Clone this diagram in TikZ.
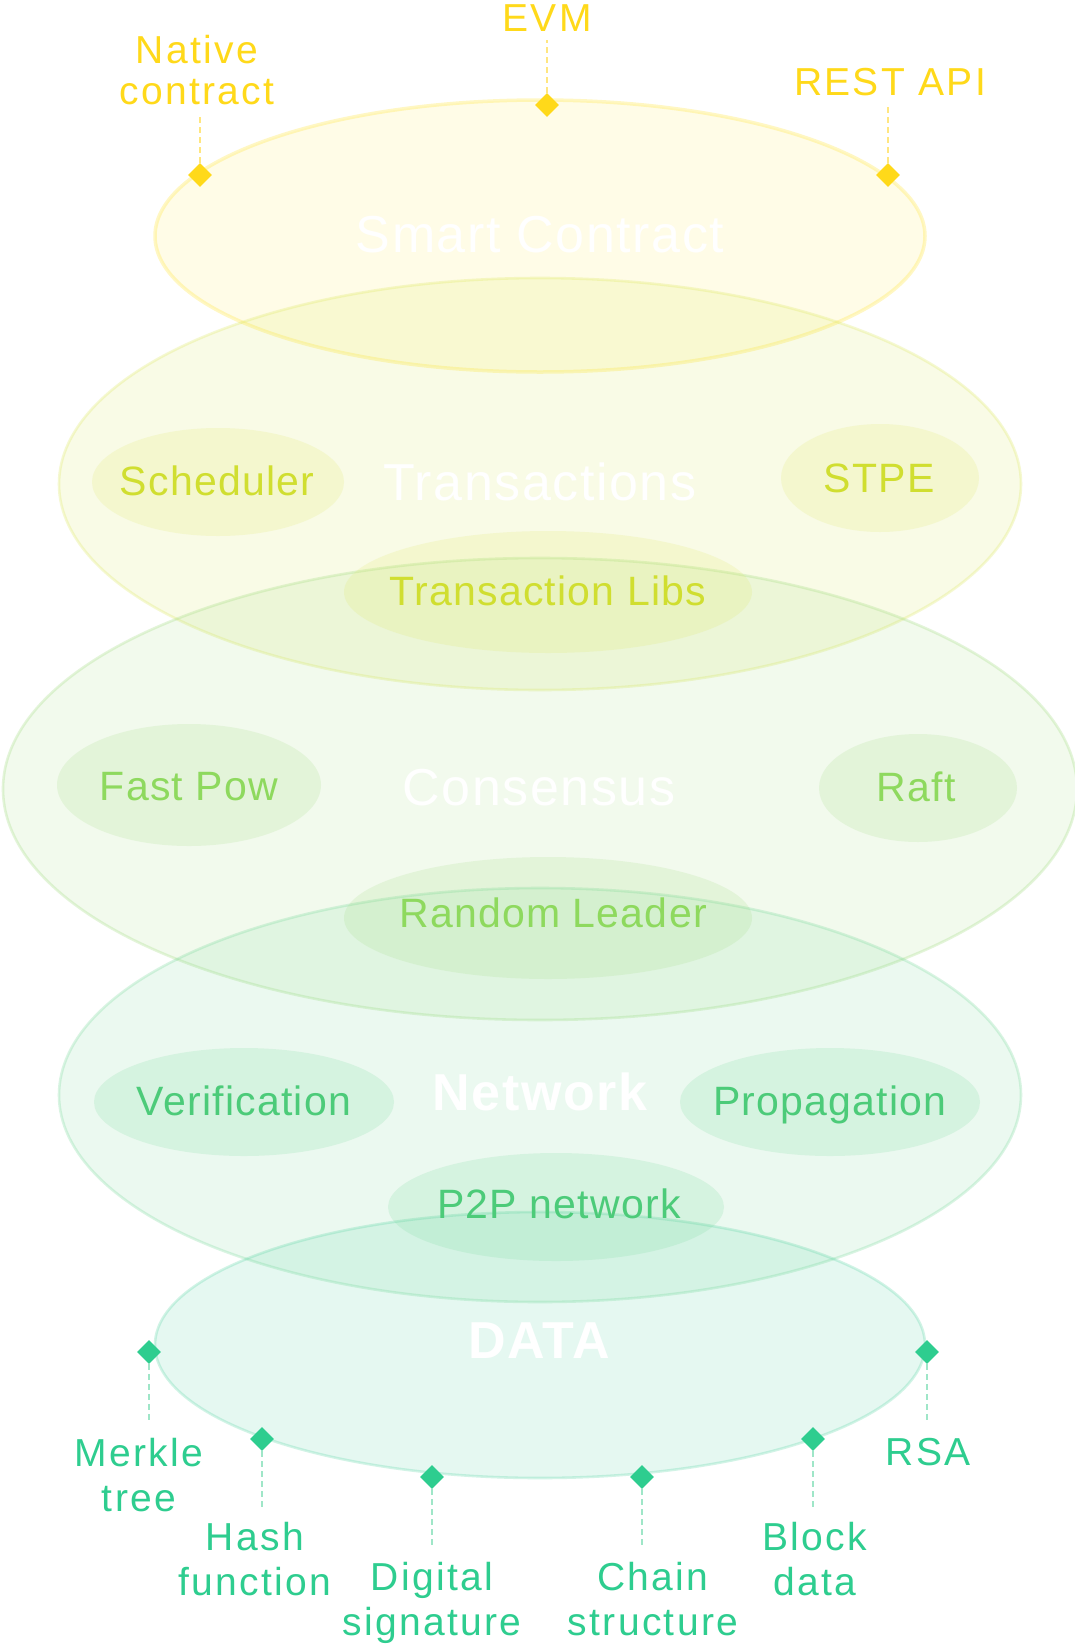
\documentclass[tikz,border=0pt]{standalone}
\usepackage{fontspec}
\setmainfont{Liberation Sans}
\newfontfamily\lblfont[LetterSpace=6]{Liberation Sans}
\newfontfamily\subfont[LetterSpace=3]{Liberation Sans}
\newfontfamily\ttlfont[LetterSpace=3]{Liberation Sans}
\usetikzlibrary{shapes.geometric}
\definecolor{cSC}{HTML}{FFE94D}
\definecolor{cTR}{HTML}{DCE85A}
\definecolor{cCO}{HTML}{9CDA78}
\definecolor{cNE}{HTML}{6CD692}
\definecolor{cDA}{HTML}{4DD39E}
\definecolor{tY}{HTML}{FFD91A}
\definecolor{tTR}{HTML}{D0DE30}
\definecolor{tCO}{HTML}{8ED95E}
\definecolor{tNE}{HTML}{4CCB79}
\definecolor{tDA}{HTML}{2ECD8F}
\definecolor{dY}{HTML}{FFE680}
\definecolor{dG}{HTML}{9FE6C8}
\tikzset{
  layer/.style={ellipse, inner sep=0pt, line width=2.6pt},
  lsc/.style={layer, fill=cSC, fill opacity=.13, draw=cSC, draw opacity=.33, line width=3.5pt},
  ltr/.style={layer, fill=cTR, fill opacity=.15, draw=cTR, draw opacity=.27},
  lco/.style={layer, fill=cCO, fill opacity=.13, draw=cCO, draw opacity=.27},
  lne/.style={layer, fill=cNE, fill opacity=.13, draw=cNE, draw opacity=.25},
  lda/.style={layer, fill=cDA, fill opacity=.14, draw=cDA, draw opacity=.25},
  subell/.style={ellipse, inner sep=0pt, draw=none},
  str/.style={subell, fill=cTR, fill opacity=.17},
  sco/.style={subell, fill=cCO, fill opacity=.17},
  sne/.style={subell, fill=cNE, fill opacity=.17},
  ttl/.style={anchor=base, inner sep=0pt, text=white, font=\ttlfont\fontsize{52}{60}\selectfont},
  ttlb/.style={ttl, font=\ttlfont\bfseries\fontsize{52}{60}\selectfont},
  sublbl/.style={anchor=base, inner sep=0pt, font=\subfont\fontsize{41}{49}\selectfont},
  outtop/.style={anchor=north, inner sep=0pt, align=center, text=tY, font=\lblfont\fontsize{39}{41}\selectfont},
  outbot/.style={anchor=north, inner sep=0pt, align=center, text=tDA, font=\lblfont\fontsize{39}{45}\selectfont},
  dia/.style={diamond, inner sep=0pt, minimum width=24pt, minimum height=24pt, aspect=1, draw=none},
  ydia/.style={dia, fill=tY},
  gdia/.style={dia, fill=tDA},
  ydash/.style={draw=dY, line width=1.2pt, dash pattern=on 6pt off 4pt, shorten >=9pt},
  gdash/.style={draw=dG, line width=1.2pt, dash pattern=on 6pt off 4pt, shorten >=15pt}
}
\begin{document}
\begin{tikzpicture}[x=1pt,y=-1pt]
\useasboundingbox[fill=white] (0,0) rectangle (1074,1647);
% layers
\node[lsc, minimum width=770pt, minimum height=272pt] (sc) at (540,236) {};
\node[ltr, minimum width=962pt, minimum height=412pt] (tr) at (540,484) {};
\node[lco, minimum width=1074pt, minimum height=462pt] (co) at (540,789) {};
\node[lne, minimum width=962pt, minimum height=414pt] (ne) at (540,1095) {};
\node[lda, minimum width=770pt, minimum height=266pt] (da) at (540,1345) {};
% sub ellipses
\node[str, minimum width=252pt, minimum height=108pt] (esch) at (218,482) {};
\node[str, minimum width=198pt, minimum height=108pt] (estp) at (880,478) {};
\node[str, minimum width=408pt, minimum height=122pt] (etl) at (548,592) {};
\node[sco, minimum width=264pt, minimum height=122pt] (efp) at (189,785) {};
\node[sco, minimum width=198pt, minimum height=108pt] (eraft) at (918,788) {};
\node[sco, minimum width=408pt, minimum height=122pt] (erl) at (548,918) {};
\node[sne, minimum width=300pt, minimum height=108pt] (ever) at (244,1102) {};
\node[sne, minimum width=300pt, minimum height=108pt] (eprop) at (830,1102) {};
\node[sne, minimum width=336pt, minimum height=108pt] (ep2p) at (556,1207) {};
% titles
\node[ttl] (tsc) at (540,252) {Smart Contract};
\node[ttl] (ttr) at (540,500) {Transactions};
\node[ttl] (tco) at (539,805) {Consensus};
\node[ttlb] (tne) at (540,1110) {Network};
\node[ttlb] (tda) at (539,1358) {DATA};
% sub labels
\node[sublbl, text=tTR] (lsch) at (217,495) {Scheduler};
\node[sublbl, text=tTR] (lstp) at (879,492) {STPE};
\node[sublbl, text=tTR] (ltl) at (548,605) {Transaction Libs};
\node[sublbl, text=tCO] (lfp) at (189,800) {Fast Pow};
\node[sublbl, text=tCO] (lraft) at (916,801) {Raft};
\node[sublbl, text=tCO] (lrl) at (553,927) {Random Leader};
\node[sublbl, text=tNE] (lver) at (244,1115) {Verification};
\node[sublbl, text=tNE] (lprop) at (830,1115) {Propagation};
\node[sublbl, text=tNE] (lp2p) at (559,1218) {P2P network};
% top diamonds and labels
\node[ydia] (dnc) at (200,175) {};
\node[ydia] (devm) at (547,105) {};
\node[ydia] (drest) at (888,175) {};
\node[outtop] (lnc) at (197,35) {Native\\contract};
\node[outtop] (levm) at (547,4) {EVM};
\node[outtop] (lrest) at (890,68) {REST API};
\draw[ydash] (dnc.north) -- (dnc |- lnc.south);
\draw[ydash] (devm.north) -- (devm |- levm.south);
\draw[ydash] (drest.north) -- (drest |- lrest.south);
% bottom diamonds and labels
\node[gdia] (dmk) at (149,1352) {};
\node[gdia] (dhf) at (262,1439) {};
\node[gdia] (dds) at (432,1477) {};
\node[gdia] (dcs) at (642,1477) {};
\node[gdia] (dbd) at (813,1439) {};
\node[gdia] (drsa) at (927,1352) {};
\node[outbot] (lmk) at (139,1438) {Merkle\\tree};
\node[outbot] (lhf) at (255,1522) {Hash\\function};
\node[outbot] (lds) at (432,1562) {Digital\\signature};
\node[outbot] (lcs) at (653,1562) {Chain\\structure};
\node[outbot] (lbd) at (815,1522) {Block\\data};
\node[outbot] (lrsa) at (928,1438) {RSA};
\draw[gdash] (dmk.south) -- (dmk |- lmk.north);
\draw[gdash] (dhf.south) -- (dhf |- lhf.north);
\draw[gdash] (dds.south) -- (dds |- lds.north);
\draw[gdash] (dcs.south) -- (dcs |- lcs.north);
\draw[gdash] (dbd.south) -- (dbd |- lbd.north);
\draw[gdash] (drsa.south) -- (drsa |- lrsa.north);
\end{tikzpicture}
\end{document}
